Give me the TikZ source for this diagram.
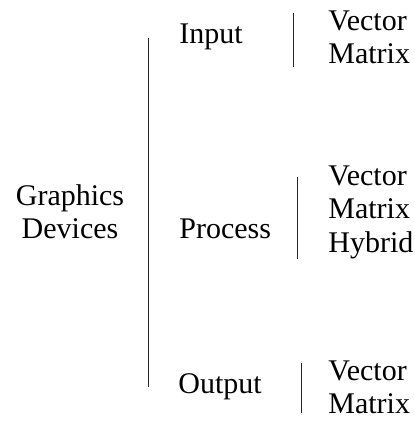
\documentclass[tikz,border=0pt]{standalone}
\usepackage{fontspec}
\setmainfont{Liberation Serif}
\usetikzlibrary{positioning}

\begin{document}
\begin{tikzpicture}[x=.5pt,y=-.5pt,font=\fontsize{15}{16.5}\selectfont,
 every node/.style={inner sep=0pt},
 rule/.style={line width=.5pt,black!85}]
\useasboundingbox (0,0) rectangle (415,421);
% root and the three kinds
\node[anchor=base] (dev1) at (70,206) {Graphics};
\node[anchor=base] (dev2) at (70,239) {Devices};
\node[anchor=base west] (in) at (179,44) {Input};
\node[anchor=base west] (proc) at (179,239) {Process};
\node[anchor=base west] (out) at (178,393) {Output};
% leaves
\foreach \t/\y [count=\k] in {Vector/31,Matrix/64}
 \node[anchor=base west] (in\k) at (328,\y) {\t};
\foreach \t/\y [count=\k] in {Vector/186,Matrix/219,Hybrid/253}
 \node[anchor=base west] (proc\k) at (328,\y) {\t};
\foreach \t/\y [count=\k] in {Vector/380,Matrix/413}
 \node[anchor=base west] (out\k) at (328,\y) {\t};
% rules
\foreach \n/\x/\a/\b in {dev/148/38/387,in/293/13/67,proc/297/177/259,out/301/363/413}{
 \coordinate (\n top) at (\x,\a);
 \coordinate (\n bot) at (\x,\b);
 \draw[rule] (\n top) -- (\n bot);
}
\end{tikzpicture}
\end{document}
